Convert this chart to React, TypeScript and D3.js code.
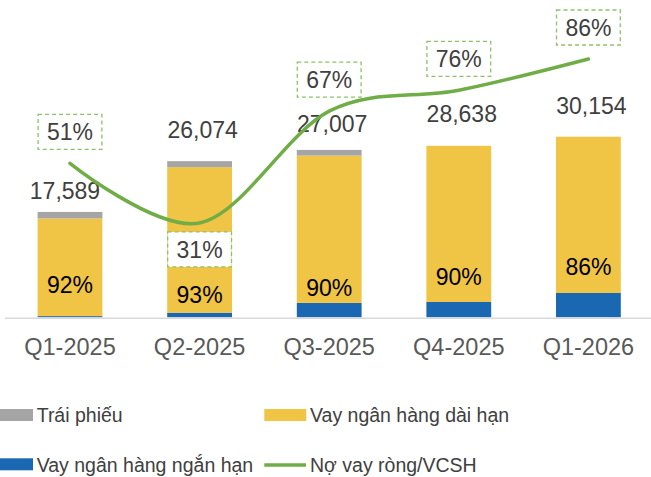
import React from "react";
import * as d3 from "d3";

const categories = ["Q1-2025", "Q2-2025", "Q3-2025", "Q4-2025", "Q1-2026"];
const shortTermLoans = [200, 770, 2400, 2560, 4060];
const longTermLoans = [16300, 24300, 24600, 26078, 26094];
const bonds = [1089, 1004, 950, 0, 0];
const totalLabels = ["17,589", "26,074", "27,007", "28,638", "30,154"];
const longTermShareLabels = ["92%", "93%", "90%", "90%", "86%"];
const netDebtToEquity = [0.51, 0.31, 0.685, 0.755, 0.86];
const netDebtLabels = ["51%", "31%", "67%", "76%", "86%"];

const W = 651;
const H = 477;
const FONT = "'Liberation Sans', Arial, sans-serif";
const C_BLUE = "#1B68B2";
const C_YELLOW = "#F0C445";
const C_GRAY = "#A5A5A5";
const C_GREEN = "#70AD47";
const C_TEXT = "#404040";

// layout nudges (pixels)
const totalLabelDx = [-5, 3, 3, 3, 3];
const totalLabelDy = [-12.7, -23, -18, -24, -23];
const shareLabelBaseline = [293.3, 303.3, 296, 285, 275];
const boxAbove = [true, false, true, true, true];

export default function App() {
  const x = d3.scaleBand<string>().domain(categories).range([5.2, 653.2]).paddingInner(0.5).paddingOuter(0.25);
  const y = d3.scaleLinear().domain([0, 35000]).range([317.3, 107.7]);
  const yl = d3.scaleLinear().domain([0, 1]).range([315.3, 17.3]);
  const bw = x.bandwidth();

  const rows = categories.map((c, i) => ({
    c,
    blue: shortTermLoans[i],
    yellow: longTermLoans[i],
    gray: bonds[i],
  }));
  const stack = d3.stack<any>().keys(["blue", "yellow", "gray"])(rows);
  const colors: Record<string, string> = { blue: C_BLUE, yellow: C_YELLOW, gray: C_GRAY };

  const pts: [number, number][] = categories.map((c, i) => [x(c)! + bw / 2, yl(netDebtToEquity[i])]);
  const line = d3.line().curve(d3.curveCatmullRom.alpha(0))(pts) || "";

  const boxH = 35;

  return (
    <svg width={W} height={H} style={{ position: "absolute", left: 0, top: 0, background: "#fff" }} fontFamily={FONT}>
      {stack.map((layer) => (
        <g key={layer.key} fill={colors[layer.key]}>
          {layer.map((d, i) =>
            d[1] - d[0] > 0 ? (
              <rect key={i} x={x(categories[i])!} y={y(d[1])} width={bw} height={y(d[0]) - y(d[1])} />
            ) : null
          )}
        </g>
      ))}
      <line x1={5} x2={651} y1={318.3} y2={318.3} stroke="#D9D9D9" strokeWidth={1.5} />

      {categories.map((c, i) => {
        const top = stack[2][i][1];
        return (
          <text key={"t" + i} x={x(c)! + bw / 2 + totalLabelDx[i]} y={y(top) + totalLabelDy[i]} textAnchor="middle" fontSize={23} fill={C_TEXT}>
            {totalLabels[i]}
          </text>
        );
      })}
      {categories.map((c, i) => (
        <text key={"s" + i} x={x(c)! + bw / 2} y={shareLabelBaseline[i]} textAnchor="middle" fontSize={23} fill="#000">
          {longTermShareLabels[i]}
        </text>
      ))}

      <path d={line} fill="none" stroke={C_GREEN} strokeWidth={3.5} strokeLinecap="round" />

      {categories.map((c, i) => {
        const py = pts[i][1];
        const by = boxAbove[i] ? py - 14 - boxH : py + 9;
        return (
          <g key={"b" + i}>
            <rect x={x(c)! + 0.5} y={by} width={bw - 1} height={boxH} fill="#fff" stroke="#8DC26A" strokeWidth={1.3} strokeDasharray="4 3" />
            <text x={x(c)! + bw / 2} y={by + boxH / 2 + 8.5} textAnchor="middle" fontSize={23} fill={C_TEXT}>
              {netDebtLabels[i]}
            </text>
          </g>
        );
      })}

      {categories.map((c, i) => (
        <text key={"x" + i} x={x(c)! + bw / 2} y={355} textAnchor="middle" fontSize={23.5} fill="#595959">
          {c}
        </text>
      ))}

      <g fontSize={19.5} fill={C_TEXT}>
        <rect x={-9} y={409} width={42} height={12} fill={C_GRAY} />
        <text x={36.7} y={422.3}>Trái phiếu</text>
        <rect x={264.3} y={409} width={42} height={12} fill={C_YELLOW} />
        <text x={310} y={422.3}>Vay ngân hàng dài hạn</text>
        <rect x={-9} y={458.3} width={42} height={12} fill={C_BLUE} />
        <text x={36.7} y={471.7}>Vay ngân hàng ngắn hạn</text>
        <line x1={264.3} x2={306} y1={465} y2={465} stroke={C_GREEN} strokeWidth={3.5} />
        <text x={310} y={471.7}>Nợ vay ròng/VCSH</text>
      </g>
    </svg>
  );
}
